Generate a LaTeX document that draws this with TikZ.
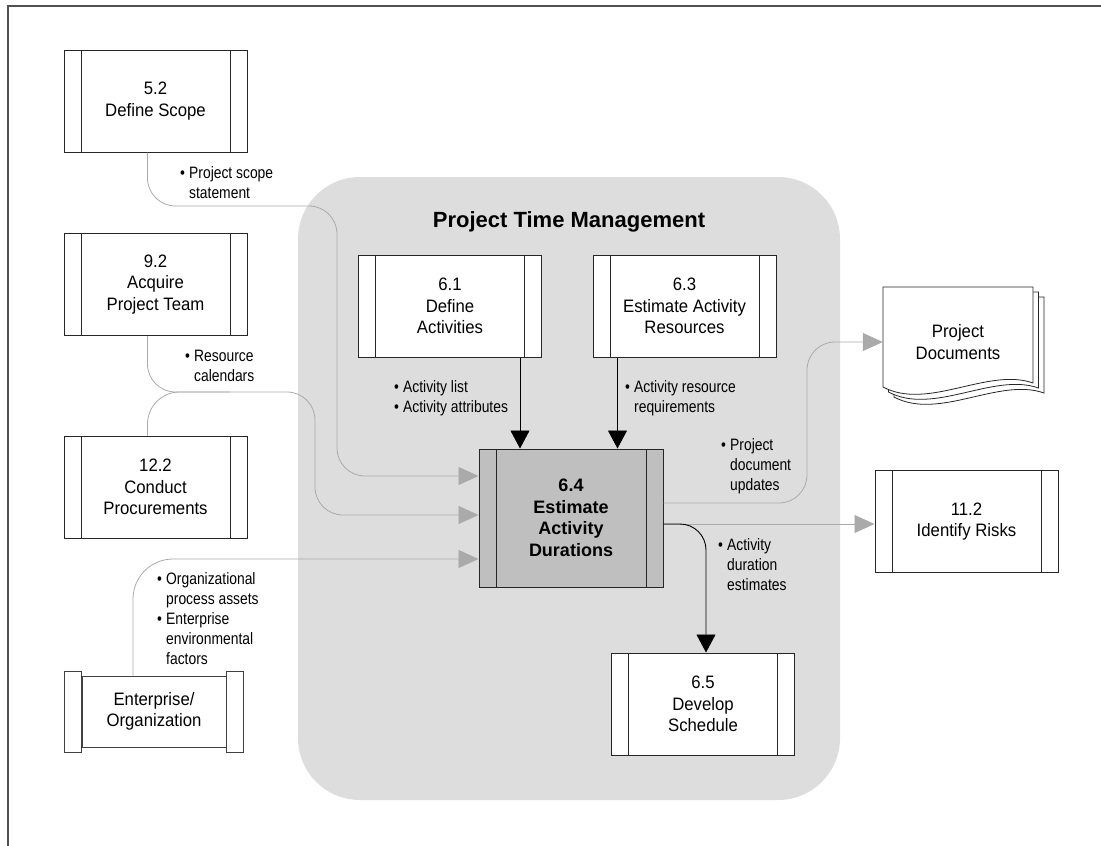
\documentclass[tikz,border=0pt]{standalone}
\usepackage{fontspec}
\setmainfont{Liberation Sans}
\newfontfamily\narrowfont{Liberation Sans}[FakeStretch=0.84]
\newfontfamily\boxfamily{Liberation Sans}[FakeStretch=0.93]
\usetikzlibrary{arrows.meta, positioning}
\definecolor{RegionGray}{RGB}{221,221,221}
\definecolor{CoreGray}{RGB}{191,191,191}
\definecolor{FlowGray}{RGB}{170,170,170}
\definecolor{FrameGray}{RGB}{80,80,80}

\newcommand{\dotitem}{\makebox[9pt][l]{\textbullet}}
\newcommand{\dotcont}{\hspace*{9pt}}

\tikzset{
  process/.style={draw=black!85, line width=1pt, fill=white, minimum width=183pt,
    minimum height=102pt, inner sep=0pt, align=center,
    font=\boxfamily\fontsize{18}{21.5}\selectfont,
    path picture={\draw[line width=1pt]
      ([xshift=17pt]path picture bounding box.north west) -- ([xshift=17pt]path picture bounding box.south west)
      ([xshift=-17pt]path picture bounding box.north east) -- ([xshift=-17pt]path picture bounding box.south east);}},
  core/.style={process, fill=CoreGray, minimum width=184pt, minimum height=138pt,
    font=\bfseries\fontsize{18}{21.5}\selectfont},
  flowlabel/.style={anchor=north west, inner sep=0pt, align=left,
    font=\narrowfont\fontsize{16.5}{20}\selectfont},
  inflow/.style={draw=FlowGray, line width=0.8pt, rounded corners=28pt,
    -{Triangle[length=20pt,width=18pt,fill=FlowGray]}},
  mainflow/.style={draw=black, line width=0.9pt, -{Triangle[length=18pt,width=19pt]}},
}

\begin{document}
\begin{tikzpicture}[x=1pt, y=-1pt]
    \useasboundingbox (0,0) rectangle (1101,846);

    % Frame
    \draw[FrameGray, line width=1.3pt] (1101,6) -- (8,6) -- (8,846);

    % Knowledge area
    \fill[RegionGray, rounded corners=62pt] (298,177) rectangle (840,800);
    \node[font=\bfseries\fontsize{22}{26}\selectfont] (title) at (569,222) {Project Time Management};

    % Outside processes
    \node[process] (scope) at (155.5,101) {5.2\\Define Scope};
    \node[process] (team) at (155.5,284.5) {9.2\\Acquire\\Project Team};
    \node[process] (proc) at (155.5,487) {12.2\\Conduct\\Procurements};
    \node[process] (risks) at (966.5,521.5) {11.2\\Identify Risks};

    % Enterprise scroll
    \node[draw=black!75, line width=1pt, fill=white, minimum width=144pt, minimum height=71pt,
      align=center, inner sep=0pt, font=\boxfamily\fontsize{18}{21.5}\selectfont]
      (ent) at (154,711.5) {Enterprise/\\Organization};
    \draw[black!75, line width=1pt, fill=white] ([xshift=-17pt,yshift=4pt]ent.north west) rectangle ([yshift=-5pt]ent.south west);
    \draw[black!75, line width=1pt, fill=white] ([yshift=4pt]ent.north east) rectangle ([xshift=17pt,yshift=-5pt]ent.south east);

    % Time management processes
    \node[process] (defact) at (450,306) {6.1\\Define\\Activities};
    \node[process] (estres) at (684.5,306) {6.3\\Estimate Activity\\Resources};
    \node[core] (core) at (571,518) {6.4\\Estimate\\Activity\\Durations};
    \node[process] (devsch) at (703,704) {6.5\\Develop\\Schedule};

    % Project documents (stacked sheets)
    \foreach \dx/\dy in {11/10, 5.5/5, 0/0} {
      \begin{scope}[shift={(883+\dx,287+\dy)}]
        \draw[black!85, line width=0.8pt, fill=white] (0,0) -- (150,0) -- (150,96)
          .. controls (105,80) and (45,124) .. (0,100) -- cycle;
      \end{scope}
    }
    \node[minimum width=150pt, minimum height=110pt, inner sep=0pt, align=center,
      font=\boxfamily\fontsize{18}{21.5}\selectfont] (docs) at (958,342) {Project\\Documents};

    % Inputs
    \draw[inflow] ([xshift=-8pt]scope.south) |- (337,206) |- ([yshift=42pt]core.west);
    \draw[inflow] ([xshift=-8pt]team.south) |- (315,392) |- ([yshift=3pt]core.west);
    \draw[draw=FlowGray, line width=0.8pt, rounded corners=32pt] ([xshift=-8pt]proc.north) |- (230,392);
    \draw[inflow, rounded corners=40pt] ([xshift=-21pt]ent.north) |- ([yshift=-41pt]core.west);
    \draw[mainflow] ([xshift=70pt]defact.south) -- ([xshift=70pt]defact.south |- core.north);
    \draw[mainflow] ([xshift=-67pt]estres.south) -- ([xshift=-67pt]estres.south |- core.north);

    % Outputs
    \draw[inflow] ([yshift=15pt]core.east) -| (807,342) -- (docs.west);
    \draw[inflow] ([yshift=-6pt]core.east) -- ([yshift=-6pt]core.east -| risks.west);
    \draw[mainflow, rounded corners=26pt] ([yshift=-6pt]core.east) -| ([xshift=3pt]devsch.north);

    % Flow labels
    \node[flowlabel] (scopelbl) at (180,166) {\dotitem Project scope\\\dotcont statement};
    \node[flowlabel] (reslbl) at (185,350) {\dotitem Resource\\\dotcont calendars};
    \node[flowlabel] (orglbl) at (157,572) {\dotitem Organizational\\\dotcont process assets\\\dotitem Enterprise\\\dotcont environmental\\\dotcont factors};
    \node[flowlabel] (actlbl) at (394,380) {\dotitem Activity list\\\dotitem Activity attributes};
    \node[flowlabel] (reqlbl) at (625,380) {\dotitem Activity resource\\\dotcont requirements};
    \node[flowlabel] (updlbl) at (721,438) {\dotitem Project\\\dotcont document\\\dotcont updates};
    \node[flowlabel] (durlbl) at (718,538) {\dotitem Activity\\\dotcont duration\\\dotcont estimates};
\end{tikzpicture}
\end{document}
